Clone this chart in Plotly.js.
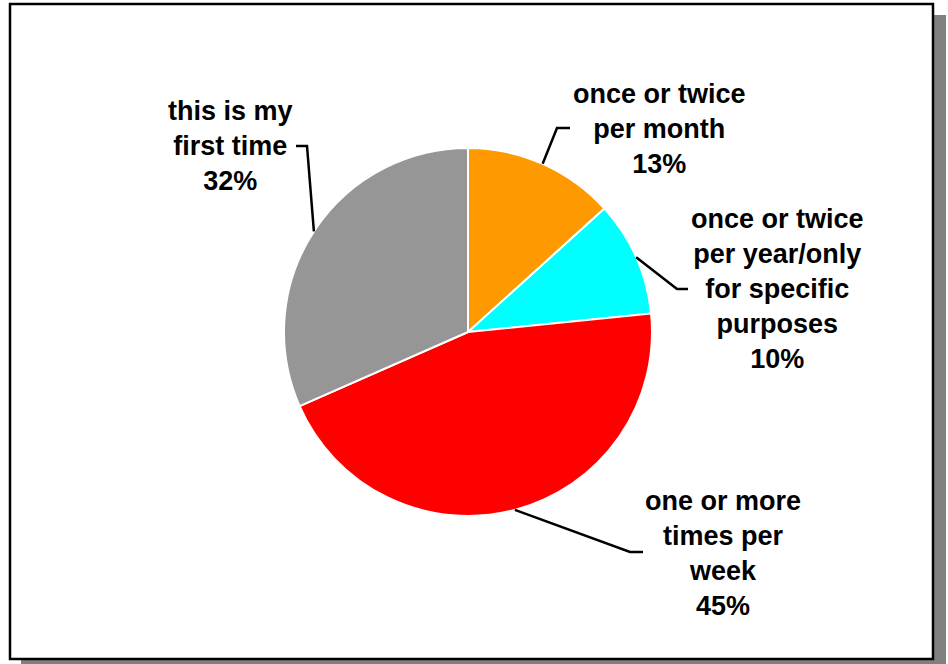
<!DOCTYPE html>
<html>
<head>
<meta charset="utf-8">
<script src="https://cdn.plot.ly/plotly-3.0.1.min.js"></script>
<style>html,body{margin:0;padding:0;background:#fff;}#chart{width:948px;height:664px;}</style>
</head>
<body>
<div id="chart"></div>
<script>
// ---- data ----
var categories = ["once or twice<br>per month", "once or twice<br>per year/only<br>for specific<br>purposes", "one or more<br>times per<br>week", "this is my<br>first time"];
var values = [13.3, 10.1, 45.0, 31.6];
var colors = ["#FF9900", "#00FFFF", "#FF0000", "#969696"];

// ---- layout constants (pixels) ----
var W = 948, H = 664;
var CX = 468, CY = 332, R = 184;
var labelPos = [[659, 129], [777, 289], [723, 553], [230, 146]];
var leaderElbow = [[557, 128], [677, 289], [630, 552], [307, 146]];
var leaderEnd = [[570, 128], [688, 289], [643, 552], [296, 146]];

function px(x){ return x / W; }
function py(y){ return 1 - y / H; }

var total = values.reduce(function(a,b){return a+b;}, 0);

var shapes = [
  // shadow
  {type:'rect', xref:'paper', yref:'paper', x0:px(21), x1:px(946), y0:py(672), y1:py(15), fillcolor:'#808080', line:{width:0}, layer:'below'},
  // frame
  {type:'rect', xref:'paper', yref:'paper', x0:px(10), x1:px(933), y0:py(659), y1:py(4), fillcolor:'#ffffff', line:{color:'#000000', width:2.5}, layer:'below'}
];
var annotations = [];
var cum = 0;
for (var i = 0; i < values.length; i++) {
  var mid = (cum + values[i] / 2) / total * 2 * Math.PI;
  cum += values[i];
  var ex = CX + R * Math.sin(mid), ey = CY - R * Math.cos(mid);
  shapes.push({type:'path', xref:'paper', yref:'paper',
    path: 'M' + px(ex) + ',' + py(ey) + ' L' + px(leaderElbow[i][0]) + ',' + py(leaderElbow[i][1]) + ' L' + px(leaderEnd[i][0]) + ',' + py(leaderEnd[i][1]),
    line:{color:'#000000', width:2.5}, layer:'above'});
  annotations.push({xref:'paper', yref:'paper', x:px(labelPos[i][0]), y:py(labelPos[i][1]),
    xanchor:'center', yanchor:'middle', align:'center', showarrow:false,
    text: '<b>' + categories[i] + '<br>' + Math.round(values[i] / total * 100) + '%</b>',
    font:{family:'Liberation Sans, Arial, sans-serif', size:27, color:'#000000'}});
}

var trace = {
  type:'pie', values: values, labels: categories.map(function(c){return c.replace(/<br>/g,' ');}),
  sort:false, direction:'clockwise', rotation:0,
  marker:{colors: colors, line:{color:'#ffffff', width:2}},
  textinfo:'none', hoverinfo:'none',
  domain:{x:[px(CX - R), px(CX + R)], y:[py(CY + R), py(CY - R)]}
};

var layout = {
  width: W, height: H,
  margin:{l:0, r:0, t:0, b:0},
  paper_bgcolor:'#ffffff', plot_bgcolor:'#ffffff',
  showlegend:false, hovermode:false,
  shapes: shapes, annotations: annotations
};
Plotly.newPlot('chart', [trace], layout, {staticPlot:true, displayModeBar:false});
</script>
</body>
</html>
